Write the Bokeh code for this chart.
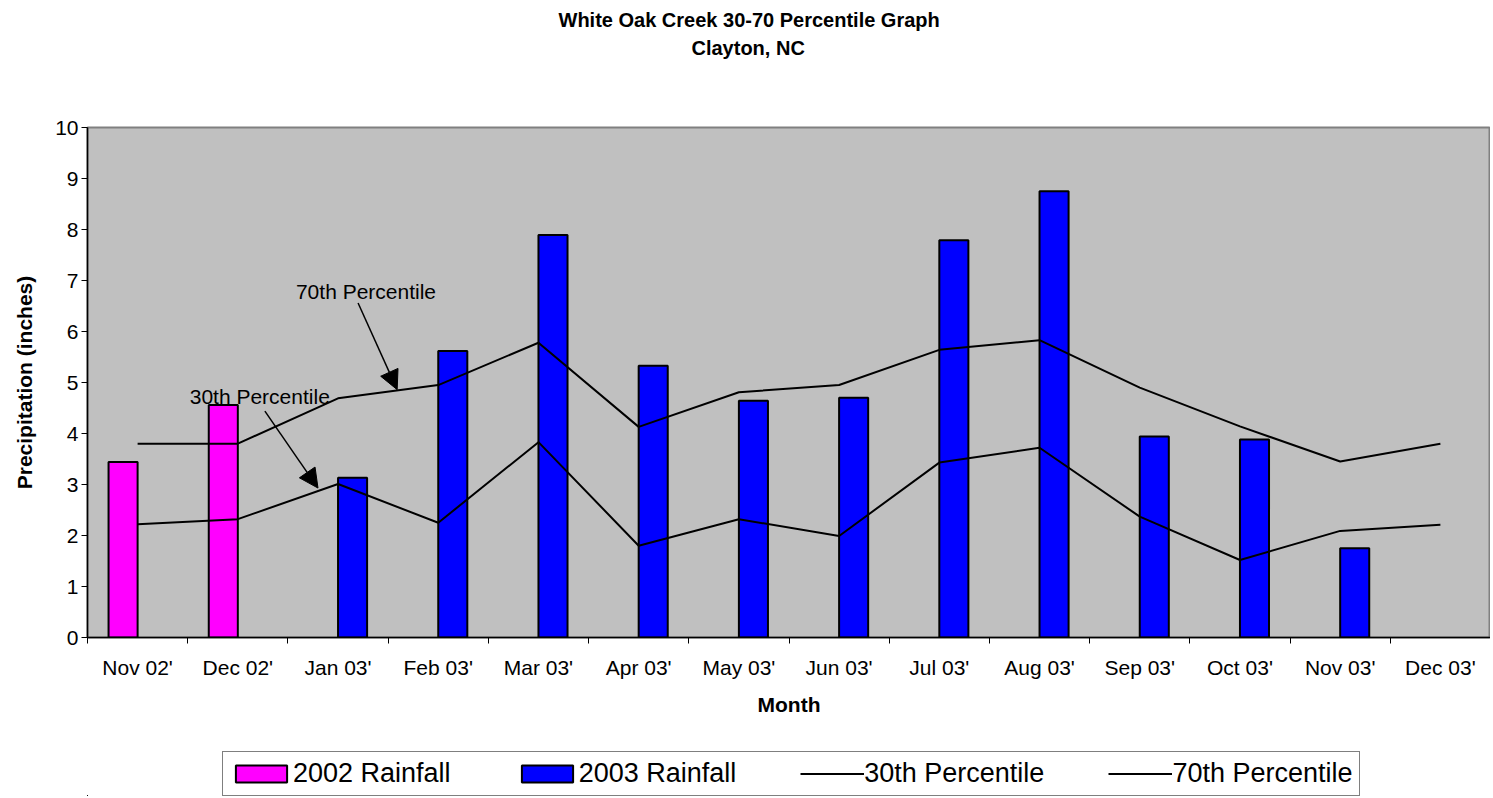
import numpy as np
from bokeh.plotting import figure
from bokeh.layouts import column
from bokeh.models import (Range1d, FixedTicker, Legend, LegendItem, Arrow,
                          NormalHead, Label, ColumnDataSource, Title)
from bokeh.embed import file_html
from bokeh.resources import INLINE

# ---------------- data ----------------
months = ["Nov 02'", "Dec 02'", "Jan 03'", "Feb 03'", "Mar 03'", "Apr 03'", "May 03'",
          "Jun 03'", "Jul 03'", "Aug 03'", "Sep 03'", "Oct 03'", "Nov 03'", "Dec 03'"]
rain_2002 = [3.44, 4.56, None, None, None, None, None, None, None, None, None, None, None, None]
rain_2003 = [None, None, 3.13, 5.62, 7.89, 5.33, 4.64, 4.70, 7.79, 8.75, 3.94, 3.88, 1.75, None]
pct_30 = [2.22, 2.32, 3.01, 2.25, 3.83, 1.80, 2.32, 1.99, 3.43, 3.72, 2.37, 1.52, 2.09, 2.21]
pct_70 = [3.80, 3.80, 4.69, 4.95, 5.78, 4.13, 4.81, 4.95, 5.64, 5.83, 4.90, 4.14, 3.45, 3.80]
y_ticks = list(range(0, 11))
series_names = ["2002 Rainfall", "2003 Rainfall", "30th Percentile", "70th Percentile"]

FONT = "Liberation Sans"
W = 1490
H_MAIN = 750
H_LEG = 46

n = len(months)
centers = [i + 0.5 for i in range(n)]
BAR_W = 0.29
PINK, BLUE = "#FF00FF", "#0000FF"

src02 = ColumnDataSource(dict(
    x=[c - BAR_W / 2 for c, v in zip(centers, rain_2002) if v is not None],
    top=[v for v in rain_2002 if v is not None]))
src03 = ColumnDataSource(dict(
    x=[c + BAR_W / 2 for c, v in zip(centers, rain_2003) if v is not None],
    top=[v for v in rain_2003 if v is not None]))
src30 = ColumnDataSource(dict(x=centers, y=pct_30))
src70 = ColumnDataSource(dict(x=centers, y=pct_70))

p = figure(width=W, height=H_MAIN, output_backend="svg", toolbar_location=None, title=None,
           x_range=Range1d(0, n), y_range=Range1d(0, 10),
           min_border_left=87, min_border_right=0, min_border_top=127,
           min_border_bottom=H_MAIN - 637)

# titles (stacked outward from the frame)
p.add_layout(Title(text=" ", text_font_size="1px", standoff=64), "above")
p.add_layout(Title(text="Clayton, NC", align="left", offset=604, standoff=4,
                   text_font=FONT, text_font_size="20px", text_font_style="bold",
                   text_color="black"), "above")
p.add_layout(Title(text="White Oak Creek 30-70 Percentile Graph", align="left",
                   offset=471, standoff=4, text_font=FONT, text_font_size="20px",
                   text_font_style="bold", text_color="black"), "above")

p.background_fill_color = "#C0C0C0"
p.border_fill_color = "white"
p.outline_line_color = "#808080"
p.outline_line_width = 2
p.xgrid.visible = False
p.ygrid.visible = False

bar_style02 = dict(width=BAR_W, fill_color=PINK, line_color="black", line_width=2)
bar_style03 = dict(width=BAR_W, fill_color=BLUE, line_color="black", line_width=2)
line_style = dict(line_color="black", line_width=2)

# bars
p.vbar(x="x", top="top", source=src02, **bar_style02)
p.vbar(x="x", top="top", source=src03, **bar_style03)
# lines
p.line(x="x", y="y", source=src30, **line_style)
p.line(x="x", y="y", source=src70, **line_style)

# annotations
p.add_layout(Label(x=2.08, y=6.78, text="70th Percentile", text_font=FONT,
                   text_font_size="21px", text_baseline="middle", text_align="left",
                   text_color="black"))
p.add_layout(Label(x=1.02, y=4.72, text="30th Percentile", text_font=FONT,
                   text_font_size="21px", text_baseline="middle", text_align="left",
                   text_color="black"))
p.add_layout(Arrow(x_start=2.70, y_start=6.56, x_end=3.09, y_end=4.86,
                   line_color="black", line_width=1.5,
                   end=NormalHead(size=19, fill_color="black", line_color="black")))
p.add_layout(Arrow(x_start=1.77, y_start=4.44, x_end=2.30, y_end=2.93,
                   line_color="black", line_width=1.5,
                   end=NormalHead(size=19, fill_color="black", line_color="black")))

# x axis
xa = p.xaxis[0]
xa.ticker = FixedTicker(ticks=centers, minor_ticks=list(range(n + 1)))
xa.major_label_overrides = {c: m for c, m in zip(centers, months)}
xa.major_tick_out = 0
xa.major_tick_in = 0
xa.minor_tick_out = 6
xa.minor_tick_in = 0
xa.minor_tick_line_color = "black"
xa.axis_line_color = "black"
xa.axis_line_width = 1.5
xa.major_label_text_font = FONT
xa.major_label_text_font_size = "21px"
xa.major_label_text_color = "black"
xa.major_label_standoff = 12
xa.axis_label = "Month"
xa.axis_label_text_font = FONT
xa.axis_label_text_font_size = "21px"
xa.axis_label_text_font_style = "bold"
xa.axis_label_text_color = "black"
xa.axis_label_standoff = 11

# y axis
ya = p.yaxis[0]
ya.ticker = FixedTicker(ticks=y_ticks)
ya.major_tick_out = 6
ya.major_tick_in = 0
ya.minor_tick_out = 0
ya.minor_tick_in = 0
ya.major_tick_line_color = "black"
ya.axis_line_color = "black"
ya.axis_line_width = 1.5
ya.major_label_text_font = FONT
ya.major_label_text_font_size = "21px"
ya.major_label_text_color = "black"
ya.major_label_standoff = 3
ya.axis_label = "Precipitation (inches)"
ya.axis_label_text_font = FONT
ya.axis_label_text_font_size = "21px"
ya.axis_label_text_font_style = "bold"
ya.axis_label_text_color = "black"
ya.axis_label_standoff = 16

# ---------------- legend strip (own figure; same series, drawn out of view) ----------------
pl = figure(width=W, height=H_LEG, output_backend="svg", toolbar_location=None,
            title=None, x_axis_location=None, y_axis_location=None,
            x_range=Range1d(100, 101), y_range=Range1d(100, 101),
            min_border_left=0, min_border_right=0, min_border_top=0, min_border_bottom=0)
pl.outline_line_color = None
pl.background_fill_color = "white"
pl.border_fill_color = "white"
pl.grid.visible = False
g02 = pl.vbar(x="x", top="top", source=src02, **bar_style02)
g03 = pl.vbar(x="x", top="top", source=src03, **bar_style03)
g30 = pl.line(x="x", y="y", source=src30, **line_style)
g70 = pl.line(x="x", y="y", source=src70, **line_style)

legend = Legend(items=[LegendItem(label=lab, renderers=[r]) for lab, r in
                       zip(series_names, [g02, g03, g30, g70])],
                orientation="horizontal", location=(135, 0), margin=0,
                border_line_color="black", border_line_width=1,
                background_fill_color="white", background_fill_alpha=1.0,
                label_text_font=FONT, label_text_font_size="27px", label_text_color="black",
                glyph_width=64, glyph_height=21, label_standoff=0, spacing=64, padding=6)
pl.add_layout(legend)

layout = column(p, pl, spacing=0)
open("out.html", "w").write(file_html(layout, INLINE))
